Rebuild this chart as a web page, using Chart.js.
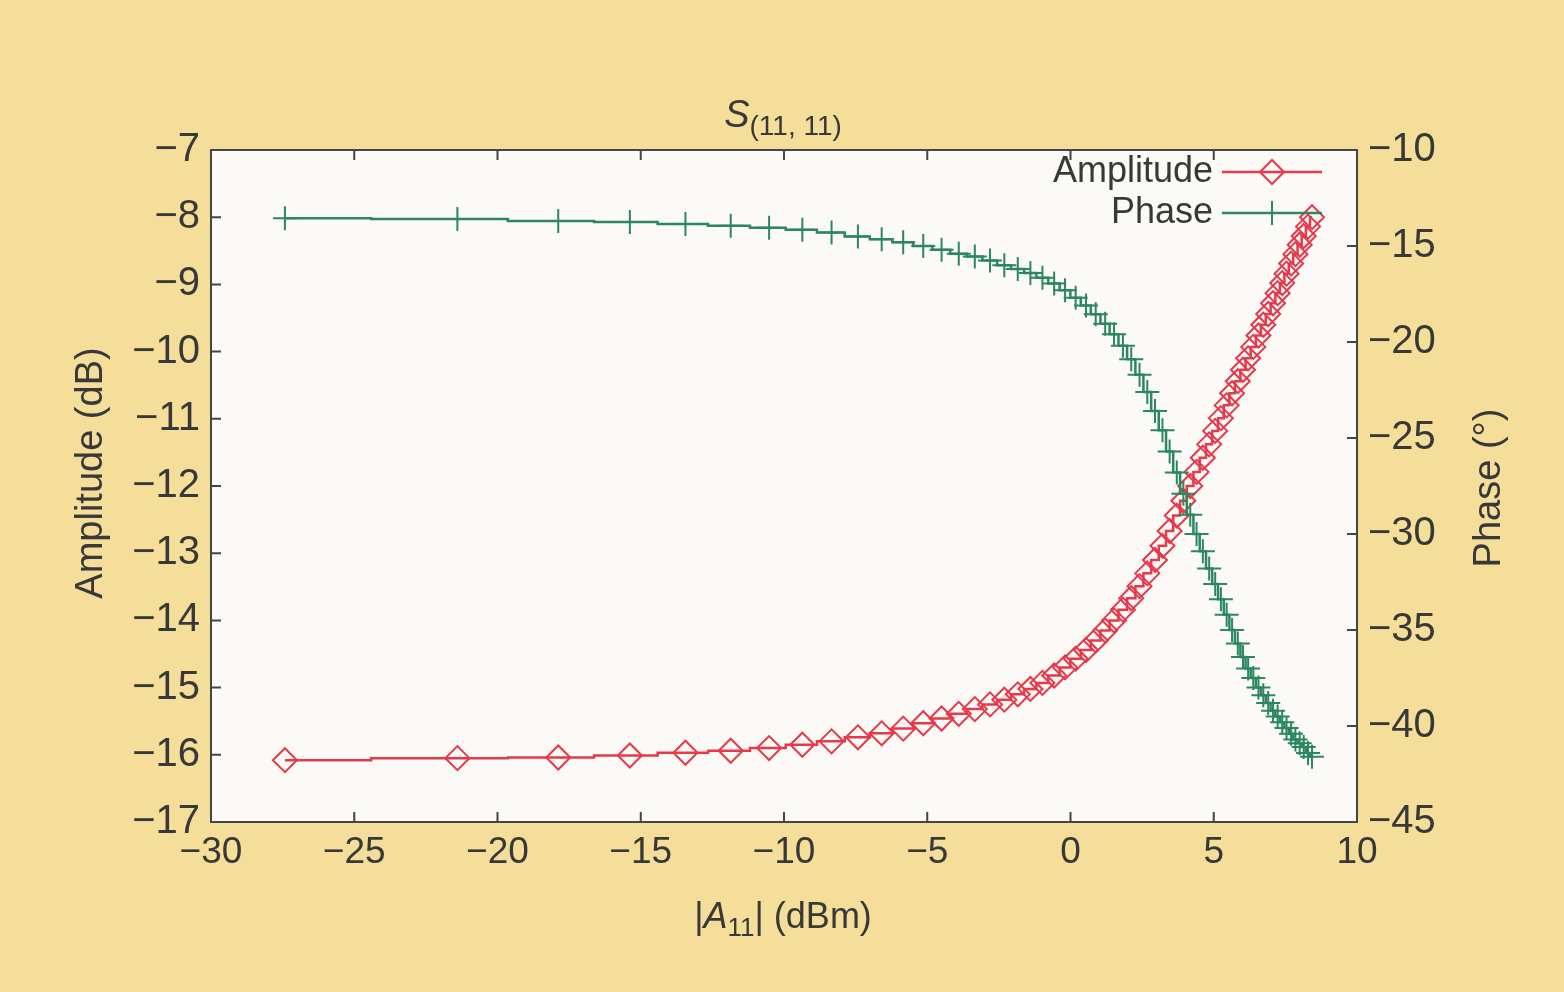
<!DOCTYPE html>
<html>
<head>
<meta charset="utf-8">
<title>S(11,11)</title>
<script src="https://cdn.jsdelivr.net/npm/chart.js@4.4.1/dist/chart.umd.min.js"></script>
<style>
  html, body { margin: 0; padding: 0; background: #f4de99; }
  #wrap { position: relative; width: 1564px; height: 992px; }
</style>
</head>
<body>
<div id="wrap"><canvas id="chart"></canvas></div>
<script>
// input power |A11| in dBm (same sweep for both curves)
const inputPower = [
  -27.42, -21.40, -17.88, -15.38, -13.44, -11.86, -10.52, -9.36, -8.34, -7.42,
  -6.59, -5.84, -5.14, -4.50, -3.90, -3.34, -2.81, -2.31, -1.84, -1.40,
  -0.98, -0.57, -0.19, 0.18, 0.54, 0.88, 1.21, 1.52, 1.83, 2.12,
  2.41, 2.68, 2.95, 3.21, 3.46, 3.71, 3.94, 4.18, 4.40, 4.62,
  4.84, 5.05, 5.25, 5.45, 5.64, 5.84, 6.02, 6.20, 6.38, 6.56,
  6.73, 6.90, 7.07, 7.23, 7.39, 7.54, 7.70, 7.85, 8.00, 8.14,
  8.29, 8.43
];

// amplitude in dB (left axis)
const amplitude = [
  -16.08, -16.05, -16.04, -16.01, -15.97, -15.94, -15.90, -15.85, -15.80, -15.74,
  -15.68, -15.61, -15.53, -15.46, -15.39, -15.32, -15.25, -15.18, -15.10, -15.02,
  -14.93, -14.82, -14.70, -14.57, -14.44, -14.30, -14.15, -14.00, -13.84, -13.67,
  -13.49, -13.30, -13.10, -12.89, -12.67, -12.44, -12.22, -12.00, -11.79, -11.58,
  -11.38, -11.18, -10.99, -10.80, -10.62, -10.44, -10.27, -10.10, -9.93, -9.76,
  -9.60, -9.44, -9.28, -9.13, -8.98, -8.84, -8.69, -8.55, -8.41, -8.28,
  -8.14, -8.00
];

// phase in degrees (right axis)
const phase = [
  -13.55, -13.60, -13.70, -13.75, -13.85, -13.95, -14.05, -14.15, -14.30, -14.50,
  -14.65, -14.80, -15.00, -15.20, -15.40, -15.55, -15.75, -16.00, -16.20, -16.40,
  -16.65, -16.95, -17.30, -17.70, -18.10, -18.55, -19.05, -19.60, -20.20, -20.90,
  -21.70, -22.60, -23.60, -24.60, -25.70, -26.80, -27.90, -29.00, -30.00, -30.90,
  -31.80, -32.60, -33.40, -34.20, -35.00, -35.70, -36.40, -37.00, -37.50, -38.00,
  -38.40, -38.80, -39.20, -39.50, -39.80, -40.10, -40.40, -40.70, -40.90, -41.10,
  -41.40, -41.60
];

const seriesNames = ['Amplitude', 'Phase'];

const FONT = "'Liberation Sans', Arial, Helvetica, sans-serif";
const INK = '#383838';
const RED = '#e6394b';
const GREEN = '#2c8660';

Chart.defaults.font.family = FONT;
Chart.defaults.color = INK;

const minus = v => String(v).replace('-', '\u2212');

// text with italic letters and subscripts, drawn centred on cx
function drawRich(ctx, parts, cx, baseline) {
  let total = 0;
  parts.forEach(p => { ctx.font = p.font; p.w = ctx.measureText(p.text).width; total += p.w; });
  let x = cx - total / 2;
  ctx.textAlign = 'left';
  ctx.textBaseline = 'alphabetic';
  parts.forEach(p => {
    ctx.font = p.font;
    ctx.fillText(p.text, x, baseline + (p.dy || 0));
    x += p.w;
  });
}

function drawVertical(ctx, text, x, y) {
  ctx.save();
  ctx.translate(x, y);
  ctx.rotate(-Math.PI / 2);
  ctx.font = `38px ${FONT}`;
  ctx.textAlign = 'center';
  ctx.textBaseline = 'middle';
  ctx.fillText(text, 0, 0);
  ctx.restore();
}

const gnuplotLook = {
  id: 'gnuplotLook',
  beforeDraw(chart) {
    const { ctx, chartArea: a } = chart;
    ctx.save();
    ctx.fillStyle = '#fbfaf6';
    ctx.fillRect(a.left, a.top, a.right - a.left, a.bottom - a.top);
    ctx.restore();
  },
  afterDraw(chart) {
    const { ctx, chartArea: a, scales } = chart;
    ctx.save();
    ctx.strokeStyle = '#454545';
    ctx.lineWidth = 2;
    ctx.strokeRect(a.left, a.top, a.right - a.left, a.bottom - a.top);

    // inward tick marks
    const len = 10;
    ctx.beginPath();
    scales.x.ticks.forEach(t => {
      const px = scales.x.getPixelForValue(t.value);
      ctx.moveTo(px, a.bottom); ctx.lineTo(px, a.bottom - len);
      ctx.moveTo(px, a.top); ctx.lineTo(px, a.top + len);
    });
    scales.y.ticks.forEach(t => {
      const py = scales.y.getPixelForValue(t.value);
      ctx.moveTo(a.left, py); ctx.lineTo(a.left + len, py);
    });
    scales.y2.ticks.forEach(t => {
      const py = scales.y2.getPixelForValue(t.value);
      ctx.moveTo(a.right, py); ctx.lineTo(a.right - len, py);
    });
    ctx.stroke();

    // title, axis labels
    ctx.fillStyle = INK;
    drawRich(ctx, [
      { text: 'S', font: `italic 38px ${FONT}` },
      { text: '(11, 11)', font: `28px ${FONT}`, dy: 8 }
    ], 783, 127);
    drawRich(ctx, [
      { text: '|', font: `36px ${FONT}` },
      { text: 'A', font: `italic 36px ${FONT}` },
      { text: '11', font: `26px ${FONT}`, dy: 8 },
      { text: '| (dBm)', font: `36px ${FONT}` }
    ], 783, 928);
    drawVertical(ctx, 'Amplitude (dB)', 92, 473);
    drawVertical(ctx, 'Phase (\u00b0)', 1490, 488);

    // legend, gnuplot style: text right aligned, sample to the right
    const rows = [172, 213];
    chart.data.datasets.forEach((ds, i) => {
      const y = rows[i];
      ctx.font = `36px ${FONT}`;
      ctx.textAlign = 'right';
      ctx.textBaseline = 'middle';
      ctx.fillStyle = INK;
      ctx.fillText(ds.label, 1213, y);
      ctx.strokeStyle = ds.borderColor;
      ctx.lineWidth = ds.borderWidth;
      ctx.beginPath();
      ctx.moveTo(1222, y); ctx.lineTo(1322, y);
      ctx.stroke();
      ctx.lineWidth = ds.pointBorderWidth;
      ctx.fillStyle = 'rgba(0,0,0,0)';
      Chart.helpers.drawPoint(ctx, {
        pointStyle: ds.pointStyle, radius: ds.pointRadius, rotation: 0, borderWidth: ds.pointBorderWidth
      }, 1272, y);
    });
    ctx.restore();
  }
};

const ctx = document.getElementById('chart').getContext('2d');
const chart = new Chart(ctx, {
  type: 'line',
  data: {
    datasets: [
      {
        label: seriesNames[0],
        data: inputPower.map((x, i) => ({ x: x, y: amplitude[i] })),
        yAxisID: 'y',
        borderColor: RED,
        borderWidth: 2.5,
        stepped: 'middle',
        pointStyle: 'rectRot',
        pointRadius: 12,
        pointBorderWidth: 2,
        pointBorderColor: RED,
        pointBackgroundColor: 'rgba(0,0,0,0)',
        fill: false,
        order: 2
      },
      {
        label: seriesNames[1],
        data: inputPower.map((x, i) => ({ x: x, y: phase[i] })),
        yAxisID: 'y2',
        borderColor: GREEN,
        borderWidth: 2.5,
        stepped: 'middle',
        pointStyle: 'cross',
        pointRadius: 12,
        pointBorderWidth: 2,
        pointBorderColor: GREEN,
        fill: false,
        order: 1
      }
    ]
  },
  options: {
    responsive: true,
    maintainAspectRatio: false,
    animation: false,
    layout: { padding: { top: 150, left: 0, right: 0, bottom: 0 } },
    plugins: {
      legend: { display: false },
      tooltip: { enabled: false },
      title: { display: false }
    },
    scales: {
      x: {
        type: 'linear',
        min: -30,
        max: 10,
        afterFit: s => { s.height = 170; },
        grid: { display: false, drawTicks: false },
        border: { display: false },
        ticks: { stepSize: 5, padding: 9, color: INK, font: { size: 37 }, callback: minus }
      },
      y: {
        type: 'linear',
        position: 'left',
        min: -17,
        max: -7,
        afterFit: s => { s.width = 211; },
        grid: { display: false, drawTicks: false },
        border: { display: false },
        ticks: { stepSize: 1, padding: 11, color: INK, font: { size: 40 }, callback: minus }
      },
      y2: {
        type: 'linear',
        position: 'right',
        min: -45,
        max: -10,
        afterFit: s => { s.width = 207; },
        grid: { display: false, drawTicks: false },
        border: { display: false },
        ticks: { stepSize: 5, padding: 11, color: INK, font: { size: 40 }, callback: minus }
      }
    }
  },
  plugins: [gnuplotLook]
});
</script>
</body>
</html>
